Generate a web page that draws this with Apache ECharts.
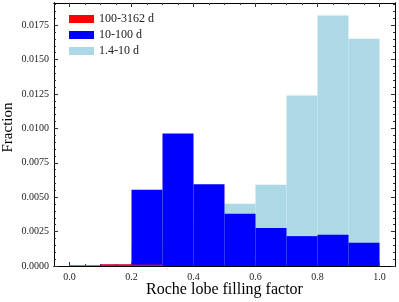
<!DOCTYPE html>
<html>
<head>
<meta charset="utf-8">
<script src="https://cdn.jsdelivr.net/npm/echarts@6/dist/echarts.min.js"></script>
<style>html,body{margin:0;padding:0;background:#fff}#c{width:399px;height:302px}</style>
</head>
<body>
<div id="c"></div>
<script>
const binEdges = [0.0,0.1,0.2,0.3,0.4,0.5,0.6,0.7,0.8,0.9,1.0];
const seriesNames = ['100-3162 d','10-100 d','1.4-10 d'];
const shortP = [0.00005,0.0,0.0015,0.0030,0.0040,0.00452,0.0059,0.01239,0.01820,0.01651];
const midP   = [0.00003,0.0001,0.00554,0.00963,0.00594,0.00379,0.00276,0.00217,0.00227,0.00169];
const longP  = [0.0,0.00012,0.0001,0.0,0.0,0.0,0.0,0.0,0.0,0.0];
const xTickLabels = [0.0,0.2,0.4,0.6,0.8,1.0];
const xMinorTicks = [0.05,0.1,0.15,0.25,0.3,0.35,0.45,0.5,0.55,0.65,0.7,0.75,0.85,0.9,0.95];
const yTickLabels = [0.0,0.0025,0.005,0.0075,0.01,0.0125,0.015,0.0175];
const yMinorStep = 0.0005;
const colors = ['#ff0000','#0000ff','#add8e6'];

function toData(vals){ return vals.map((v,i)=>[binEdges[i],binEdges[i+1],v]); }
function rend(color){
  return function(params, api){
    const p0 = api.coord([api.value(0), api.value(2)]);
    const p1 = api.coord([api.value(1), 0]);
    return {type:'rect', shape:{x:p0[0], y:p0[1], width:p1[0]-p0[0], height:p1[1]-p0[1]}, style:{fill:color}};
  };
}
const FONT = 'Liberation Serif';
const xMin=-0.05, xMax=1.05, yMax=0.01911;
const yMinorTicks = [];
for (let k=1; k*yMinorStep<yMax; k++){ if (k%5!==0) yMinorTicks.push(+(k*yMinorStep).toFixed(5)); }

function xAx(pos, ticks, len, labels){
  return {type:'value', position:pos, min:xMin, max:xMax,
    axisLine:{show:true, onZero:false, lineStyle:{color:'#000', width:1}},
    axisTick:{show:true, inside:true, length:len, customValues:ticks, lineStyle:{color:'#333'}},
    axisLabel:labels?{show:true, customValues:xTickLabels, fontFamily:FONT, fontSize:10, color:'#222', margin:6, formatter:v=>v.toFixed(1)}:{show:false},
    splitLine:{show:false}};
}
function yAx(pos, ticks, len, labels){
  return {type:'value', position:pos, min:0, max:yMax,
    axisLine:{show:true, onZero:false, lineStyle:{color:'#000', width:1}},
    axisTick:{show:true, inside:true, length:len, customValues:ticks, lineStyle:{color:'#333'}},
    axisLabel:labels?{show:true, customValues:yTickLabels, fontFamily:FONT, fontSize:10, color:'#222', margin:5, formatter:v=>v.toFixed(4)}:{show:false},
    splitLine:{show:false}};
}
const xAxes = [xAx('bottom', xTickLabels, 4, true), xAx('bottom', xMinorTicks, 2, false), xAx('top', xTickLabels, 4, false), xAx('top', xMinorTicks, 2, false)];
xAxes[0].name = 'Roche lobe filling factor';
xAxes[0].nameLocation = 'middle';
xAxes[0].nameGap = 16;
xAxes[0].nameMoveOverlap = false;
xAxes[0].nameTextStyle = {fontFamily:FONT, fontSize:16, color:'#000'};
const yAxes = [yAx('left', yTickLabels, 4, true), yAx('left', yMinorTicks, 2, false), yAx('right', yTickLabels, 4, false), yAx('right', yMinorTicks, 2, false)];
yAxes[0].name = 'Fraction';
yAxes[0].nameLocation = 'middle';
yAxes[0].nameGap = 38;
yAxes[0].nameMoveOverlap = false;
yAxes[0].nameTextStyle = {fontFamily:FONT, fontSize:15, color:'#000', padding:[0,0,0,14]};

const vals = [longP, midP, shortP];
const series = [];
[2,1,0].forEach(i=>{
  series.push({type:'custom', name:seriesNames[i], xAxisIndex:0, yAxisIndex:0,
    renderItem:rend(colors[i]), itemStyle:{color:colors[i]},
    encode:{x:[0,1], y:2}, data:toData(vals[i]), animation:false, clip:true});
});

const chart = echarts.init(document.getElementById('c'), null, {renderer:'canvas'});
chart.setOption({
  animation:false,
  grid:{left:54, right:4, top:3, bottom:36, containLabel:false, outerBoundsMode:'none'},
  legend:{left:64, top:8, orient:'vertical', itemWidth:25, itemHeight:8, itemGap:4, icon:'rect',
    data:seriesNames, textStyle:{fontFamily:FONT, fontSize:12, color:'#222'}, selectedMode:false},
  xAxis:xAxes,
  yAxis:yAxes,
  series:series
});
</script>
</body>
</html>
